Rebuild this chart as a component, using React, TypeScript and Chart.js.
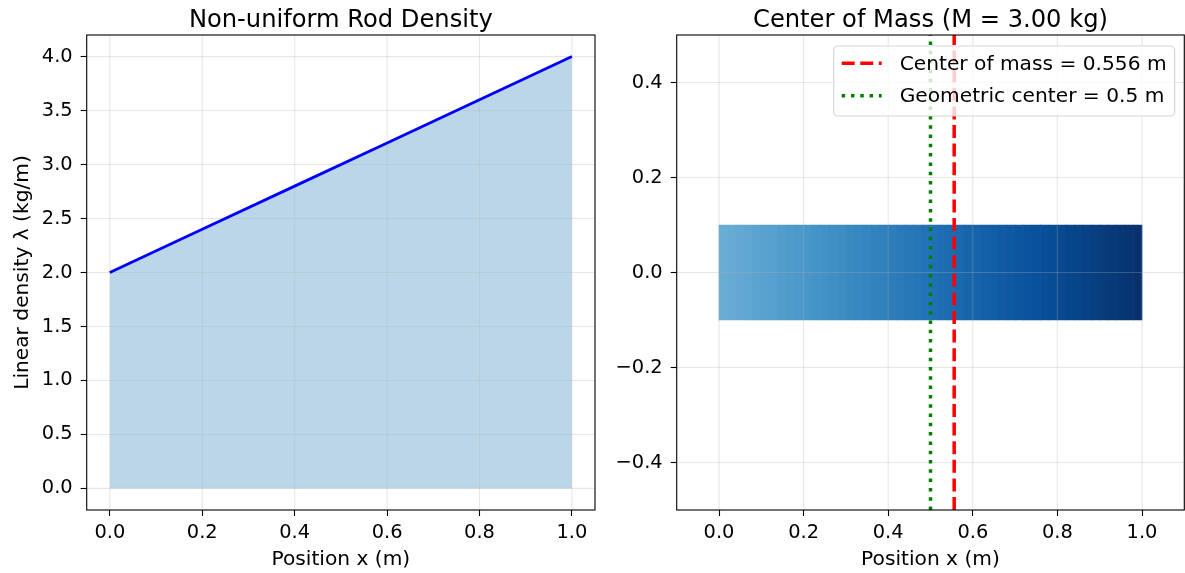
import React, { useEffect, useRef } from "react";
import { Chart, registerables } from "chart.js";

Chart.register(...registerables);

const FONT = "DejaVu Sans";
const W = 1185;
const H = 573;

// Left panel: linear density along the rod
const positions = [0.0, 0.2, 0.4, 0.6, 0.8, 1.0];
const densities = [2.0, 2.4, 2.8, 3.2, 3.6, 4.0];
const positionTicks = [0.0, 0.2, 0.4, 0.6, 0.8, 1.0];
const densityTicks = [0.0, 0.5, 1.0, 1.5, 2.0, 2.5, 3.0, 3.5, 4.0];

// Right panel: the rod split into short segments, shaded by local density
const rodSegmentCenters = [
  0.01, 0.03, 0.05, 0.07, 0.09, 0.11, 0.13, 0.15, 0.17, 0.19,
  0.21, 0.23, 0.25, 0.27, 0.29, 0.31, 0.33, 0.35, 0.37, 0.39,
  0.41, 0.43, 0.45, 0.47, 0.49, 0.51, 0.53, 0.55, 0.57, 0.59,
  0.61, 0.63, 0.65, 0.67, 0.69, 0.71, 0.73, 0.75, 0.77, 0.79,
  0.81, 0.83, 0.85, 0.87, 0.89, 0.91, 0.93, 0.95, 0.97, 0.99,
];
const rodSegmentDensities = [
  2.02, 2.06, 2.10, 2.14, 2.18, 2.22, 2.26, 2.30, 2.34, 2.38,
  2.42, 2.46, 2.50, 2.54, 2.58, 2.62, 2.66, 2.70, 2.74, 2.78,
  2.82, 2.86, 2.90, 2.94, 2.98, 3.02, 3.06, 3.10, 3.14, 3.18,
  3.22, 3.26, 3.30, 3.34, 3.38, 3.42, 3.46, 3.50, 3.54, 3.58,
  3.62, 3.66, 3.70, 3.74, 3.78, 3.82, 3.86, 3.90, 3.94, 3.98,
];
const rodExtent = [-0.1, 0.1];
const totalMass = 3.0;
const centerOfMass = 0.556;
const geometricCenter = 0.5;
const heightRange = [-0.5, 0.5];
const heightTicks = [-0.4, -0.2, 0.0, 0.2, 0.4];

// matplotlib "Blues" colormap anchors
const BLUES = [
  [247, 251, 255], [222, 235, 247], [198, 219, 239], [158, 202, 225],
  [107, 174, 214], [66, 146, 198], [33, 113, 181], [8, 81, 156], [8, 48, 107],
];
function blues(t: number): string {
  const c = Math.min(1, Math.max(0, t)) * (BLUES.length - 1);
  const i = Math.min(BLUES.length - 2, Math.floor(c));
  const f = c - i;
  const a = BLUES[i], b = BLUES[i + 1];
  const m = (k: number) => Math.round(a[k] + (b[k] - a[k]) * f);
  return `rgb(${m(0)},${m(1)},${m(2)})`;
}

const fmt = (v: number) => v.toFixed(1).replace("-", "\u2212");

const TICK_SIZE = 19.4;
const LABEL_SIZE = 20.2;
const TITLE_SIZE = 24.2;

function axis(min: number, max: number, ticks: number[], size: number, isX: boolean) {
  return {
    type: "linear",
    min,
    max,
    offset: false,
    afterBuildTicks: (s: any) => {
      s.ticks = ticks.map((v) => ({ value: v }));
    },
    afterFit: (s: any) => {
      if (isX) s.height = size;
      else s.width = size;
    },
    grid: {
      drawOnChartArea: false,
      drawTicks: true,
      tickLength: 6,
      tickColor: "#000",
      tickWidth: 1.1,
      offset: false,
    },
    border: { display: false },
    ticks: {
      color: "#000",
      font: { family: FONT, size: TICK_SIZE },
      padding: isX ? 5 : 8,
      maxRotation: 0,
      autoSkip: false,
      callback: (v: any) => fmt(Number(v)),
    },
  };
}

// light grid drawn above filled areas but below the lines
const gridOverlay = {
  id: "gridOverlay",
  afterDatasetDraw(chart: any, args: any, opts: any) {
    if (args.index !== opts.afterIndex) return;
    const { ctx, chartArea: a, scales } = chart;
    ctx.save();
    ctx.strokeStyle = "rgba(176,176,176,0.3)";
    ctx.lineWidth = 1.1;
    for (const t of scales.x.ticks) {
      const px = scales.x.getPixelForValue(t.value);
      ctx.beginPath();
      ctx.moveTo(px, a.top);
      ctx.lineTo(px, a.bottom);
      ctx.stroke();
    }
    for (const t of scales.y.ticks) {
      const py = scales.y.getPixelForValue(t.value);
      ctx.beginPath();
      ctx.moveTo(a.left, py);
      ctx.lineTo(a.right, py);
      ctx.stroke();
    }
    ctx.restore();
  },
};

// axes frame, title and axis labels
const decor = {
  id: "decor",
  afterDraw(chart: any, _args: any, opts: any) {
    const { ctx, chartArea: a } = chart;
    ctx.save();
    ctx.strokeStyle = "#000";
    ctx.lineWidth = 1.1;
    ctx.strokeRect(a.left, a.top, a.right - a.left, a.bottom - a.top);
    ctx.fillStyle = "#000";
    ctx.textAlign = "center";
    ctx.textBaseline = "alphabetic";
    ctx.font = `${TITLE_SIZE}px "${FONT}"`;
    ctx.fillText(opts.title, (a.left + a.right) / 2, a.top - 8.4);
    ctx.font = `${LABEL_SIZE}px "${FONT}"`;
    ctx.fillText(opts.xLabel, (a.left + a.right) / 2, 565);
    if (opts.yLabel) {
      ctx.translate(27.7, (a.top + a.bottom) / 2);
      ctx.rotate(-Math.PI / 2);
      ctx.fillText(opts.yLabel, 0, 0);
    }
    ctx.restore();
  },
};

// framed legend in the upper right corner of the plot area
const boxLegend = {
  id: "boxLegend",
  afterDraw(chart: any) {
    const { ctx, chartArea: a } = chart;
    const items = chart.data.datasets.filter((d: any) => d.label);
    ctx.save();
    ctx.font = `${LABEL_SIZE}px "${FONT}"`;
    const textW = Math.max(...items.map((d: any) => ctx.measureText(d.label).width));
    const pad = 8, handle = 40, gap = 18;
    const boxW = pad + handle + gap + textW + pad;
    const boxH = 70;
    const right = a.right - 9.7;
    const top = a.top + 11;
    const left = right - boxW;
    ctx.beginPath();
    ctx.roundRect(left, top, boxW, boxH, 4);
    ctx.fillStyle = "rgba(255,255,255,0.8)";
    ctx.fill();
    ctx.strokeStyle = "rgba(204,204,204,0.8)";
    ctx.lineWidth = 1.2;
    ctx.stroke();
    items.forEach((d: any, i: number) => {
      const y = top + 17.3 + i * 32.5;
      ctx.beginPath();
      ctx.setLineDash(d.borderDash || []);
      ctx.lineCap = "butt";
      ctx.strokeStyle = d.borderColor;
      ctx.lineWidth = d.borderWidth;
      ctx.moveTo(left + pad, y);
      ctx.lineTo(left + pad + handle, y);
      ctx.stroke();
      ctx.setLineDash([]);
      ctx.fillStyle = "#000";
      ctx.textAlign = "left";
      ctx.textBaseline = "alphabetic";
      ctx.fillText(d.label, left + pad + handle + gap, y + 6.5);
    });
    ctx.restore();
  },
};

const LEFT_AREA = { left: 86.7, right: 595, top: 35, bottom: 510 };
const RIGHT_AREA = { left: 676.7, right: 1184.3, top: 35, bottom: 510 };
const Y_AXIS_W = 86.7;

export default function App() {
  const leftRef = useRef<HTMLCanvasElement>(null);
  const rightRef = useRef<HTMLCanvasElement>(null);

  useEffect(() => {
    Chart.defaults.font.family = FONT;
    Chart.defaults.color = "#000";

    const densityPoints = positions.map((x, i) => ({ x, y: densities[i] }));
    const left = new Chart(leftRef.current as HTMLCanvasElement, {
      type: "line",
      data: {
        datasets: [
          {
            data: densityPoints,
            borderColor: "rgba(0,0,0,0)",
            borderWidth: 0,
            backgroundColor: "rgba(31,119,180,0.3)",
            fill: "origin",
            pointRadius: 0,
            order: 2,
          },
          {
            data: densityPoints,
            borderColor: "#0000ff",
            borderWidth: 2.8,
            fill: false,
            pointRadius: 0,
            order: 1,
          },
        ],
      },
      options: {
        responsive: false,
        animation: false,
        devicePixelRatio: 1,
        layout: {
          padding: { left: 0, right: W - LEFT_AREA.right, top: LEFT_AREA.top, bottom: 0 },
        },
        scales: {
          x: axis(-0.05, 1.05, positionTicks, H - LEFT_AREA.bottom, true),
          y: axis(-0.2, 4.2, densityTicks, Y_AXIS_W, false),
        } as any,
        plugins: {
          legend: { display: false },
          tooltip: { enabled: false },
          gridOverlay: { afterIndex: 0 },
          decor: {
            title: "Non-uniform Rod Density",
            xLabel: "Position x (m)",
            yLabel: "Linear density \u03bb (kg/m)",
          },
        } as any,
      },
      plugins: [gridOverlay, decor],
    } as any);

    const maxDensity = Math.max(...densities);
    const right = new Chart(rightRef.current as HTMLCanvasElement, {
      type: "bar",
      data: {
        datasets: [
          {
            type: "bar",
            data: rodSegmentCenters.map((x) => ({ x, y: rodExtent })),
            backgroundColor: rodSegmentDensities.map((d) => blues(d / maxDensity)),
            borderWidth: 0,
            barPercentage: 1,
            categoryPercentage: 1,
            grouped: false,
            order: 3,
          },
          {
            type: "line",
            label: `Center of mass = ${centerOfMass.toFixed(3)} m`,
            data: heightRange.map((y) => ({ x: centerOfMass, y })),
            borderColor: "#ff0000",
            borderWidth: 3.5,
            borderDash: [13, 5.6],
            pointRadius: 0,
            fill: false,
            order: 2,
          },
          {
            type: "line",
            label: `Geometric center = ${geometricCenter} m`,
            data: heightRange.map((y) => ({ x: geometricCenter, y })),
            borderColor: "#008000",
            borderWidth: 3.5,
            borderDash: [3.5, 5.8],
            pointRadius: 0,
            fill: false,
            order: 1,
          },
        ],
      },
      options: {
        responsive: false,
        animation: false,
        devicePixelRatio: 1,
        layout: {
          padding: {
            left: RIGHT_AREA.left - Y_AXIS_W,
            right: W - RIGHT_AREA.right,
            top: RIGHT_AREA.top,
            bottom: 0,
          },
        },
        scales: {
          x: axis(-0.1, 1.1, positionTicks, H - RIGHT_AREA.bottom, true),
          y: axis(heightRange[0], heightRange[1], heightTicks, Y_AXIS_W, false),
        } as any,
        plugins: {
          legend: { display: false },
          tooltip: { enabled: false },
          gridOverlay: { afterIndex: 0 },
          decor: {
            title: `Center of Mass (M = ${totalMass.toFixed(2)} kg)`,
            xLabel: "Position x (m)",
          },
        } as any,
      },
      plugins: [gridOverlay, decor, boxLegend],
    } as any);

    return () => {
      left.destroy();
      right.destroy();
    };
  }, []);

  return (
    <div style={{ position: "fixed", left: 0, top: 0, width: W, height: H, background: "#fff" }}>
      <canvas ref={leftRef} width={W} height={H} style={{ position: "absolute", left: 0, top: 0 }} />
      <canvas ref={rightRef} width={W} height={H} style={{ position: "absolute", left: 0, top: 0 }} />
    </div>
  );
}
